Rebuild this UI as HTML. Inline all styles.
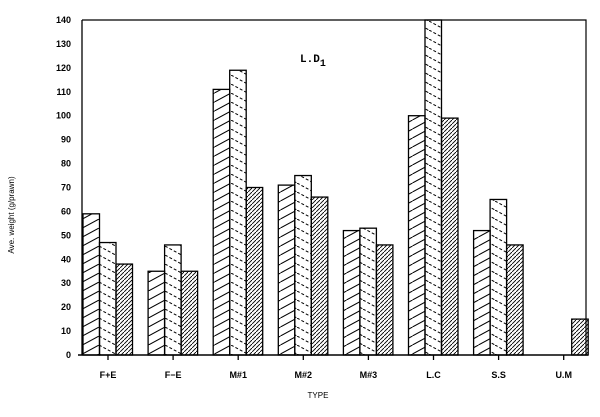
<!DOCTYPE html>
<html><head><style>body{margin:0;background:#fff}</style></head><body>
<svg width="600" height="412" xmlns="http://www.w3.org/2000/svg" font-family="Liberation Sans, sans-serif">
<defs>
<pattern id="p1" patternUnits="userSpaceOnUse" width="16.5" height="9" x="0" y="3">
<path d="M0,9 L16.5,0 M-16.5,9 L0,0 M16.5,9 L33,0" stroke="#000" stroke-width="1"/></pattern>
<pattern id="p2" patternUnits="userSpaceOnUse" width="16.5" height="9" x="0" y="3">
<path d="M0,0 L16.5,9" stroke="#000" stroke-width="1" stroke-dasharray="3,2"/></pattern>
<pattern id="p3" patternUnits="userSpaceOnUse" width="4" height="4">
<path d="M-1,5 L5,-1" stroke="#000" stroke-width="0.9"/></pattern>
</defs>
<rect width="600" height="412" fill="#fff"/>
<path d="M82,20 H586 V355" fill="none" stroke="#000" stroke-width="1.2"/>
<g id="bars" stroke="#000" stroke-width="1.3"></g>
<line x1="82" y1="20" x2="82" y2="355" stroke="#000" stroke-width="1.3"/>
<line x1="78" y1="355" x2="588" y2="355" stroke="#000" stroke-width="1.5"/>
<g id="yt" font-size="9" text-anchor="end" fill="#000" font-weight="bold"></g>
<g id="xt" font-size="9" text-anchor="middle" fill="#000" font-weight="bold"></g>
<text x="300" y="62" font-size="11" font-weight="bold" font-family="Liberation Mono, monospace">L.D<tspan font-size="10" dy="4">1</tspan></text>
<text x="318" y="398" font-size="8" text-anchor="middle">TYPE</text>
<text transform="translate(14,215) rotate(-90)" font-size="8" text-anchor="middle">Ave. weight (g/prawn)</text>
</svg>
<script>
var ns="http://www.w3.org/2000/svg";
var data=[["F+E",59,47,38],["F−E",35,46,35],["M#1",111,119,70],["M#2",71,75,66],["M#3",52,53,46],["L.C",100,140,99],["S.S",52,65,46],["U.M",0,0,15]];
var g=document.getElementById('bars'),xt=document.getElementById('xt'),yt=document.getElementById('yt');
function Y(v){return 355-v*335/140}
data.forEach(function(d,i){var c=108+i*65.1;
 for(var k=0;k<3;k++){var v=d[k+1];if(!v)continue;var r=document.createElementNS(ns,'rect');
 r.setAttribute('x',c-25+k*16.5);r.setAttribute('y',Y(v));r.setAttribute('width',16.5);r.setAttribute('height',355-Y(v));
 r.setAttribute('fill','url(#p'+(k+1)+')');g.appendChild(r);}
 var l=document.createElementNS(ns,'line');l.setAttribute('x1',c);l.setAttribute('x2',c);l.setAttribute('y1',355);l.setAttribute('y2',360);l.setAttribute('stroke','#000');g.appendChild(l);
 var t=document.createElementNS(ns,'text');t.setAttribute('x',c);t.setAttribute('y',378);t.textContent=d[0];xt.appendChild(t);});
for(var v=0;v<=140;v+=10){var t=document.createElementNS(ns,'text');t.setAttribute('x',71);t.setAttribute('y',Y(v)+3);t.textContent=v;yt.appendChild(t);}
</script>
</body></html>
